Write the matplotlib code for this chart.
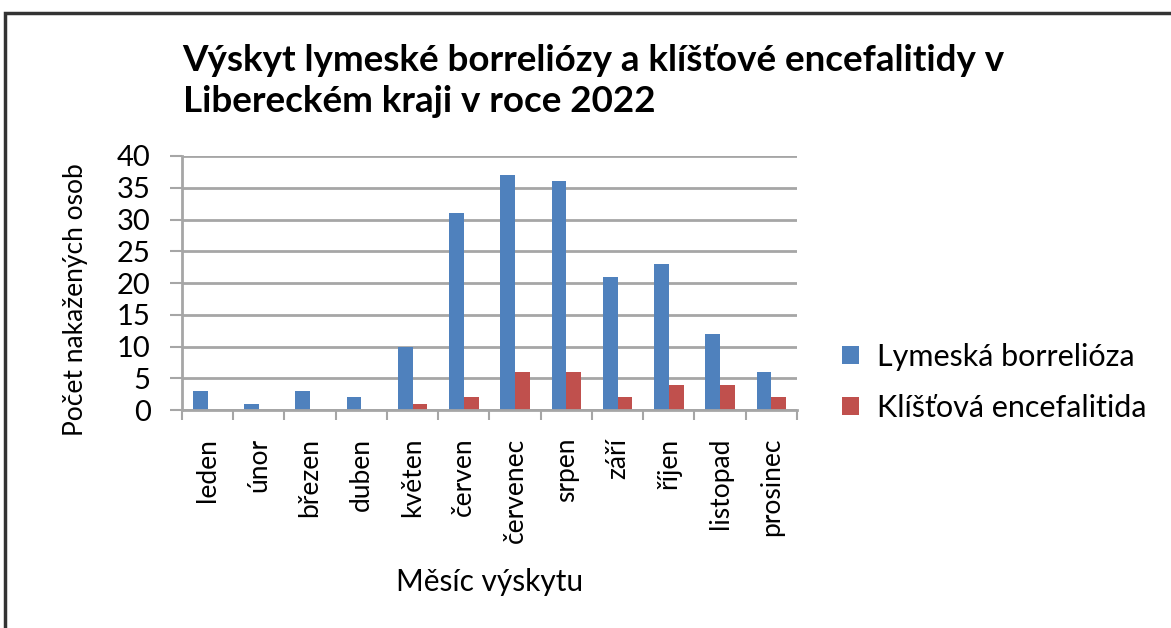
import matplotlib.pyplot as plt
import numpy as np
from matplotlib.patches import Rectangle

mesice = ['leden', 'únor', 'březen', 'duben', 'květen', 'červen',
          'červenec', 'srpen', 'září', 'říjen', 'listopad', 'prosinec']
borrelioza = [3, 1, 3, 2, 10, 31, 37, 36, 21, 23, 12, 6]
encefalitida = [0, 0, 0, 0, 1, 2, 6, 6, 2, 4, 4, 2]

plt.rcParams['font.family'] = ['Lato', 'DejaVu Sans']

fig = plt.figure(figsize=(11.71, 6.28), dpi=100)
ax = fig.add_axes([0.1554, 0.3471, 0.5252, 0.4045])

x = np.arange(len(mesice))
w = 0.286
ax.bar(x + 0.5 - w / 2, borrelioza, width=w, color='#4f81bd', label='Lymeská borrelióza')
ax.bar(x + 0.5 + w / 2, encefalitida, width=w, color='#c0504d', label='Klíšťová encefalitida')

ax.set_xlim(0, len(mesice))
ax.set_ylim(0, 40)
ax.set_yticks(range(0, 41, 5))
ax.tick_params(axis='y', labelsize=21, length=8.6, width=1.5, color='#a6a6a6', pad=14)
ax.set_axisbelow(True)
ax.grid(axis='y', color='#a6a6a6', lw=2)

ax.set_xticks(np.arange(0, len(mesice) + 1))
ax.set_xticklabels([])
ax.set_xticks(x + 0.5, minor=True)
ax.set_xticklabels(mesice, minor=True, rotation=90, fontsize=19)
ax.tick_params(axis='x', which='major', length=7, width=1.5, color='#a6a6a6')
ax.tick_params(axis='x', which='minor', length=0, pad=20)

for s in ['top', 'right']:
    ax.spines[s].set_visible(False)
ax.spines['left'].set_color('#a6a6a6')
ax.spines['left'].set_linewidth(2)
ax.spines['bottom'].set_color('#a6a6a6')
ax.spines['bottom'].set_linewidth(2)

ax.set_ylabel('Počet nakažených osob', fontsize=19)
ax.yaxis.set_label_coords(-0.152, 0.433)
ax.set_xlabel('Měsíc výskytu', fontsize=21.5)
ax.xaxis.set_label_coords(0.5, -0.623)

fig.text(0.156, 0.93, 'Výskyt lymeské borreliózy a klíšťové encefalitidy v',
         fontsize=26.5, fontweight='bold', va='top', ha='left')
fig.text(0.156, 0.865, 'Libereckém kraji v roce 2022',
         fontsize=26.5, fontweight='bold', va='top', ha='left')

ax.legend(loc='center left', bbox_to_anchor=(1.029, 0.11), frameon=False, fontsize=22,
          handlelength=0.55, handleheight=0.55, labelspacing=0.75, handletextpad=0.6)

fig.patches.append(Rectangle((5 / 1171, -0.1), 1.2, 1 - 13 / 628 + 0.1, transform=fig.transFigure,
                             fill=False, edgecolor='#333333', lw=2.5))

fig.savefig('out.png', dpi=100)
